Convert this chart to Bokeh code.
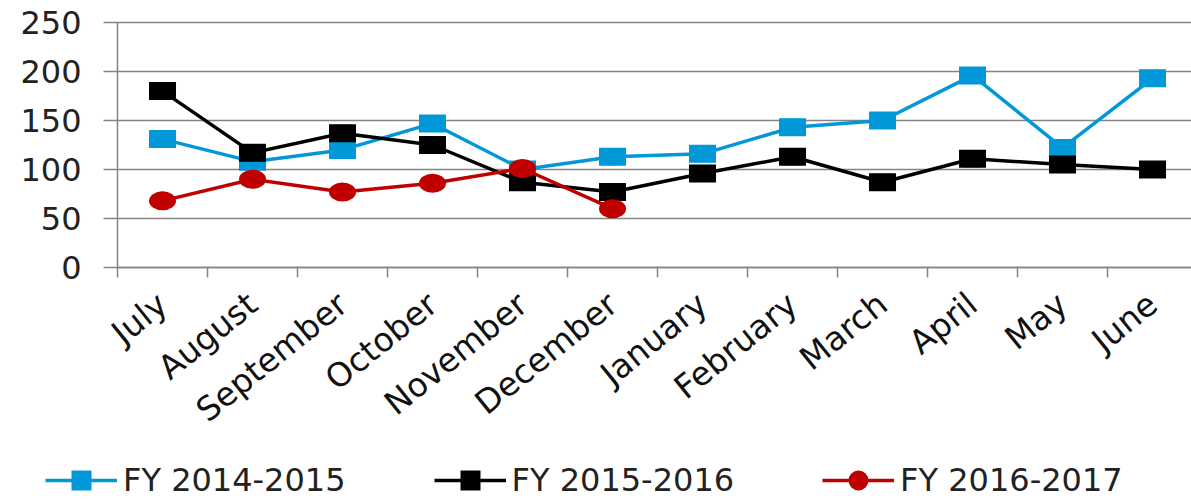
from bokeh.plotting import figure
from bokeh.models import Range1d, FixedTicker, Legend, LegendItem, ColumnDataSource
from bokeh.embed import file_html
from bokeh.resources import INLINE

months = ["July", "August", "September", "October", "November", "December",
          "January", "February", "March", "April", "May", "June"]
fy_2014_2015 = [131, 108, 120, 147, 100, 113, 116, 143, 150, 196, 122, 193]
fy_2015_2016 = [180, 117, 137, 125, 87, 77, 96, 113, 87, 111, 105, 100]
fy_2016_2017 = [68, 90, 77, 86, 101, 60]
y_ticks = [0, 50, 100, 150, 200, 250]
series_names = ["FY 2014-2015", "FY 2015-2016", "FY 2016-2017"]
series_colors = ["#0098d8", "#000000", "#c00000"]
series_markers = ["square", "square", "circle"]

FONT = "DejaVu Sans"

# The frame fills the whole canvas; both axes are pinned at data 0 so that the
# legend (drawn inside the frame) can sit below the month labels.
p = figure(width=1191, height=502,
           x_range=Range1d(-1.3, 11.933), y_range=Range1d(-239.8, 272.45),
           output_backend="svg", toolbar_location=None,
           min_border_left=0, min_border_right=0,
           min_border_top=0, min_border_bottom=0)
p.outline_line_color = None
p.background_fill_color = "white"
p.xgrid.visible = False
p.ygrid.visible = False

grid_color = "#858585"

# y axis (its long inward ticks act as the horizontal gridlines)
yax = p.yaxis[0]
yax.fixed_location = 0
yax.bounds = (y_ticks[0], y_ticks[-1])
yax.ticker = FixedTicker(ticks=y_ticks, minor_ticks=[])
yax.level = "underlay"
yax.axis_line_color = grid_color
yax.axis_line_width = 1.5
yax.major_tick_line_color = grid_color
yax.major_tick_line_width = 1.5
yax.major_tick_out = 14
yax.major_tick_in = 1074
yax.minor_tick_line_color = None
yax.major_label_text_font = FONT
yax.major_label_text_font_size = "32px"
yax.major_label_text_color = "#222222"
yax.major_label_standoff = 22

# x axis: labels at category centres, tick marks at category boundaries
centers = [i + 0.5 for i in range(len(months))]
bounds = [float(i) for i in range(len(months) + 1)]
xax = p.xaxis[0]
xax.fixed_location = 0
xax.bounds = (bounds[0], bounds[-1])
xax.ticker = FixedTicker(ticks=centers, minor_ticks=bounds)
xax.major_label_overrides = {c: m for c, m in zip(centers, months)}
xax.axis_line_color = grid_color
xax.axis_line_width = 1.5
xax.major_tick_line_color = None
xax.major_tick_out = 0
xax.major_tick_in = 0
xax.minor_tick_line_color = grid_color
xax.minor_tick_line_width = 1.5
xax.minor_tick_out = 10
xax.minor_tick_in = 0
xax.major_label_orientation = 0.68
xax.major_label_text_font = FONT
xax.major_label_text_font_size = "33px"
xax.major_label_text_color = "#111111"
xax.major_label_standoff = 22

items = []
for name, vals, color, marker in zip(series_names,
                                     [fy_2014_2015, fy_2015_2016, fy_2016_2017],
                                     series_colors, series_markers):
    src = ColumnDataSource(dict(x=centers[:len(vals)], y=vals))
    lr = p.line("x", "y", source=src, line_color=color, line_width=3.5)
    if marker == "square":
        sr = p.scatter("x", "y", source=src, marker="square", size=17,
                       fill_color=color, line_color=None)
        p.rect("x", "y", width=27, height=18, width_units="screen",
               height_units="screen", source=src, fill_color=color, line_color=None)
    else:
        sr = p.scatter("x", "y", source=src, marker="circle", size=18,
                       fill_color=color, line_color=None)
        p.ellipse("x", "y", width=27, height=19, width_units="screen",
                  height_units="screen", source=src, fill_color=color, line_color=None)
    items.append(LegendItem(label=name, renderers=[lr, sr]))

legend = Legend(items=items, location=(45, -3), orientation="horizontal",
                glyph_width=72, glyph_height=50, label_height=50,
                label_standoff=6, spacing=88,
                padding=0, margin=0, border_line_color=None,
                background_fill_alpha=0,
                label_text_font=FONT, label_text_font_size="32px",
                label_text_color="#222222")
p.add_layout(legend)

open("out.html", "w").write(file_html(p, INLINE))
